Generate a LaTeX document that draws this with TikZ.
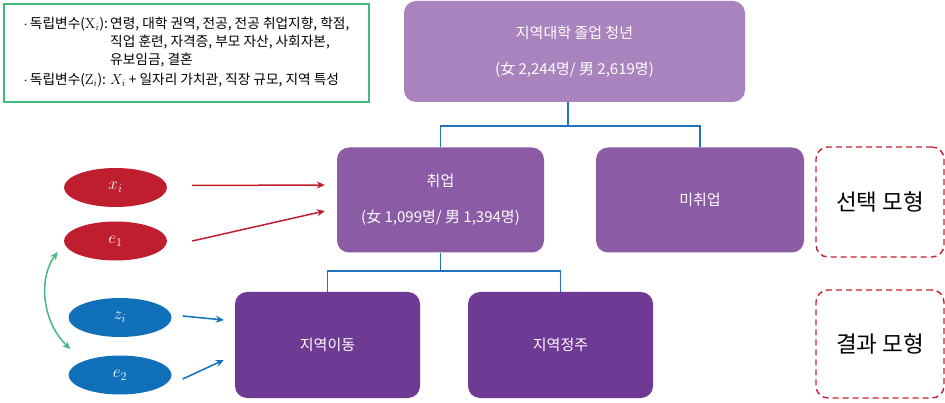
\documentclass[tikz,border=0pt]{standalone}
\usepackage[no-math]{fontspec}
\setmainfont{Noto Sans CJK KR}
\usetikzlibrary{arrows.meta,shapes.geometric,calc}
\definecolor{topc}{HTML}{A883BD}
\definecolor{midc}{HTML}{8B5BA5}
\definecolor{botc}{HTML}{6F3A94}
\definecolor{redc}{HTML}{BF1E2E}
\definecolor{bluec}{HTML}{1170BA}
\definecolor{connc}{HTML}{2272BF}
\definecolor{greenc}{HTML}{45B97C}
\definecolor{dashc}{HTML}{C8202F}
\begin{document}
\begin{tikzpicture}[x=1pt,y=-1pt,
  box/.style={rounded corners=12pt,text=white,align=center,inner sep=0pt,
    font=\fontsize{15}{36}\selectfont},
  ell/.style={ellipse,minimum width=103pt,minimum height=39pt,inner sep=0pt,text=white,font=\fontsize{17}{20}\selectfont},
  conn/.style={draw=connc,line width=1.4pt},
  redarr/.style={draw=redc,line width=1.5pt,-{Stealth[length=8pt,width=7pt]}},
  bluearr/.style={draw=bluec,line width=1.5pt,-{Stealth[length=8pt,width=7pt]}},
  greenarr/.style={draw=greenc,line width=1.5pt,{Stealth[length=8pt,width=7pt]}-{Stealth[length=8pt,width=7pt]}},
  dashbox/.style={draw=dashc,line width=1.4pt,dash pattern=on 6pt off 4pt,rounded corners=12pt,
    minimum width=128pt,inner sep=0pt,font=\fontsize{22.5}{26}\selectfont}
]
\useasboundingbox (0,0) rectangle (945,403);

% variables box
\node[draw=greenc,line width=1.5pt,minimum width=365pt,minimum height=98pt,inner sep=0pt,
  font=\fontsize{13.7}{18}\selectfont] (vars) at (186.5,53)
 {\begin{tabular}{@{}l@{\,}l@{}}
  $\cdot$\,독립변수($\mathrm{X}_i$): & 연령, 대학 권역, 전공, 전공 취업지향, 학점,\\
  & 직업 훈련, 자격증, 부모 자산, 사회자본,\\
  & 유보임금, 결혼\\[2pt]
  $\cdot$\,독립변수($\mathrm{Z}_i$): & $X_i$ + 일자리 가치관, 직장 규모, 지역 특성
 \end{tabular}};

% boxes
\node[box,fill=topc,minimum width=341pt,minimum height=101pt] (top) at (574.5,51.5)
  {지역대학 졸업 청년\\(女 2,244명/ 男 2,619명)};
\node[box,fill=midc,minimum width=207pt,minimum height=105pt] (emp) at (440.5,200)
  {취업\\(女 1,099명/ 男 1,394명)};
\node[box,fill=midc,minimum width=208pt,minimum height=105pt] (unemp) at (700,200) {미취업};
\node[box,fill=botc,minimum width=185pt,minimum height=106pt] (move) at (327.5,345) {지역이동};
\node[box,fill=botc,minimum width=185pt,minimum height=106pt] (stay) at (560.5,345) {지역정주};

% connectors
\coordinate (j1) at (568,126);
\draw[conn] (top.south -| j1) -- (j1);
\draw[conn] (emp.north) |- (unemp.north |- j1) -- (unemp.north);
\coordinate (j2) at (440.5,271);
\draw[conn] (emp.south) -- (j2);
\draw[conn] (move.north) |- (stay.north |- j2) -- (stay.north);

% ellipses
\node[ell,fill=redc] (xi) at (115.5,187.5) {$x_i$};
\node[ell,fill=redc] (e1) at (115.5,241) {$e_1$};
\node[ell,fill=bluec] (zi) at (120,317.5) {$z_i$};
\node[ell,fill=bluec] (e2) at (120,375) {$e_2$};

% arrows
\draw[redarr] ($(xi.east)+(25,-2)$) -- ($(emp.west)+(-12,-15)$);
\draw[redarr] ($(e1.east)+(25,0)$) -- ($(emp.west)+(-12,11)$);
\draw[bluearr] ($(zi.east)+(11,-1.5)$) -- ($(move.west)+(-11,-25)$);
\draw[bluearr] ($(e2.east)+(11,4)$) -- ($(move.west)+(-11,15)$);
\coordinate (ga) at ($(e1.west)+(-6,11)$);
\coordinate (gb) at ($(e2.west)+(2,-26)$);
\draw[greenarr] (ga) .. controls (38,278) and (42,322) .. (gb);

% model labels
\node[dashbox,minimum height=110pt] (sel) at (880,202) {선택 모형};
\node[dashbox,minimum height=108pt] (res) at (880,344) {결과 모형};
\end{tikzpicture}
\end{document}
